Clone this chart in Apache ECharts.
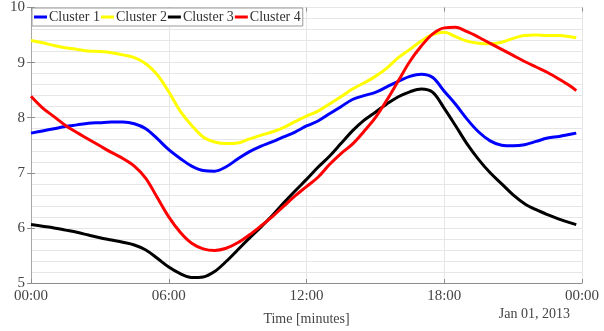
<!DOCTYPE html>
<html>
<head>
<meta charset="utf-8">
<script src="https://cdn.jsdelivr.net/npm/echarts@6/dist/echarts.min.js"></script>
<style>
  html, body { margin: 0; padding: 0; background: #fff; }
  #chart { width: 604px; height: 331px; }
</style>
</head>
<body>
<div id="chart"></div>
<script>
// Time of day in hours (00:00 .. 23:45)
var hours = [0, 0.5, 1, 1.5, 2, 2.5, 3, 3.5, 4, 4.5, 5, 5.5, 6, 6.5, 7, 7.5, 8, 8.5, 9, 9.5,
  10, 10.5, 11, 11.5, 12, 12.5, 13, 13.5, 14, 14.5, 15, 15.5, 16, 16.5, 17, 17.5, 18, 18.5, 19, 19.5,
  20, 20.5, 21, 21.5, 22, 22.5, 23, 23.5, 23.75];

var cluster1 = [7.72, 7.76, 7.80, 7.84, 7.87, 7.90, 7.91, 7.92, 7.92, 7.89, 7.80, 7.62, 7.42, 7.26, 7.12, 7.04, 7.03, 7.11, 7.25, 7.38,
  7.48, 7.56, 7.65, 7.74, 7.85, 7.94, 8.07, 8.20, 8.33, 8.40, 8.46, 8.56, 8.66, 8.75, 8.79, 8.73, 8.48, 8.24, 7.97, 7.74,
  7.58, 7.50, 7.49, 7.51, 7.57, 7.63, 7.66, 7.70, 7.72];

var cluster2 = [9.40, 9.36, 9.31, 9.27, 9.24, 9.21, 9.20, 9.18, 9.14, 9.09, 8.98, 8.78, 8.47, 8.12, 7.86, 7.65, 7.56, 7.53, 7.54, 7.61,
  7.68, 7.74, 7.82, 7.93, 8.03, 8.12, 8.25, 8.38, 8.52, 8.63, 8.75, 8.90, 9.09, 9.24, 9.39, 9.51, 9.55, 9.47, 9.39, 9.35,
  9.34, 9.37, 9.44, 9.49, 9.50, 9.49, 9.49, 9.47, 9.45];

var cluster3 = [6.06, 6.03, 6.00, 5.96, 5.92, 5.87, 5.82, 5.78, 5.74, 5.69, 5.60, 5.45, 5.29, 5.17, 5.10, 5.11, 5.21, 5.39, 5.60, 5.81,
  6.01, 6.22, 6.45, 6.67, 6.88, 7.10, 7.30, 7.53, 7.76, 7.95, 8.10, 8.25, 8.38, 8.47, 8.52, 8.46, 8.17, 7.85, 7.52, 7.24,
  7.00, 6.80, 6.60, 6.44, 6.33, 6.24, 6.16, 6.09, 6.06];

var cluster4 = [8.39, 8.18, 8.02, 7.86, 7.73, 7.61, 7.49, 7.37, 7.26, 7.12, 6.90, 6.55, 6.20, 5.92, 5.72, 5.62, 5.59, 5.63, 5.73, 5.87,
  6.03, 6.20, 6.39, 6.58, 6.75, 6.92, 7.15, 7.35, 7.52, 7.75, 8.00, 8.32, 8.67, 9.02, 9.30, 9.52, 9.63, 9.64, 9.56, 9.46,
  9.35, 9.24, 9.13, 9.02, 8.92, 8.82, 8.70, 8.57, 8.49];

var seriesNames = ['Cluster 1', 'Cluster 2', 'Cluster 3', 'Cluster 4'];
var seriesColors = ['#0000ff', '#ffff00', '#000000', '#ff0000'];
var seriesValues = [cluster1, cluster2, cluster3, cluster4];

var xTickLabels = ['00:00', '06:00', '12:00', '18:00', '00:00'];
var dateLabel = 'Jan 01, 2013';

var serif = '"Liberation Serif", "DejaVu Serif", serif';
var axisGray = '#8c8c8c';
var gridGray = '#e6e6e6';

function pairs(vals) {
  return hours.map(function (h, i) { return [h, vals[i]]; });
}

var chart = echarts.init(document.getElementById('chart'), null, { renderer: 'canvas' });

chart.setOption({
  animation: false,
  backgroundColor: '#ffffff',
  grid: { left: 31, right: 22, top: 2, bottom: 44, containLabel: false },
  legend: {
    data: seriesNames,
    left: 32,
    top: 8,
    padding: [2, 2, 2, 2],
    itemGap: 1,
    itemWidth: 13,
    itemHeight: 3,
    icon: 'rect',
    borderColor: '#999999',
    borderWidth: 1,
    backgroundColor: '#ffffff',
    textStyle: { fontFamily: serif, fontSize: 14, color: '#333333', padding: [0, 0, 0, -3] }
  },
  xAxis: [
    {
      type: 'value',
      min: 0,
      max: 24,
      interval: 6,
      name: 'Time [minutes]',
      nameLocation: 'middle',
      nameGap: 29,
      nameTextStyle: { fontFamily: serif, fontSize: 14, color: '#444444' },
      axisLine: { show: true, lineStyle: { color: axisGray, width: 1 } },
      axisTick: { show: true, inside: true, length: 4, lineStyle: { color: axisGray } },
      axisLabel: {
        fontFamily: serif, fontSize: 15, color: '#444444', margin: 6,
        formatter: function (v) { return xTickLabels[Math.round(v / 6)]; }
      },
      splitLine: { show: true, lineStyle: { color: gridGray, width: 1 } }
    },
    {
      type: 'value',
      position: 'top',
      min: 0,
      max: 24,
      interval: 6,
      axisLine: { show: false },
      axisTick: { show: true, inside: true, length: 4, lineStyle: { color: axisGray } },
      axisLabel: { show: false },
      splitLine: { show: false }
    }
  ],
  yAxis: [
    {
      type: 'value',
      min: 5,
      max: 10,
      interval: 1,
      axisLine: { show: true, lineStyle: { color: axisGray, width: 1 } },
      axisTick: { show: true, inside: true, length: 4, lineStyle: { color: axisGray } },
      axisLabel: { fontFamily: serif, fontSize: 15, color: '#444444', margin: 6 },
      splitLine: { show: true, lineStyle: { color: gridGray, width: 1 } },
      minorTick: { show: false, splitNumber: 5 },
      minorSplitLine: { show: true, lineStyle: { color: gridGray, width: 1 } }
    },
    {
      type: 'value',
      position: 'right',
      min: 5,
      max: 10,
      interval: 1,
      axisLine: { show: true, lineStyle: { color: '#a6a6a6', width: 1 } },
      axisTick: { show: true, inside: true, length: 4, lineStyle: { color: axisGray } },
      axisLabel: { show: false },
      splitLine: { show: false }
    }
  ],
  series: seriesNames.map(function (name, i) {
    return {
      name: name,
      type: 'line',
      data: pairs(seriesValues[i]),
      xAxisIndex: 0,
      yAxisIndex: 0,
      smooth: 0.35,
      showSymbol: false,
      symbol: 'none',
      color: seriesColors[i],
      lineStyle: { color: seriesColors[i], width: 3 }
    };
  }),
  graphic: [
    {
      type: 'text',
      right: 34,
      top: 307,
      style: { text: dateLabel, font: '14px ' + serif, fill: '#444444' }
    }
  ]
});
</script>
</body>
</html>
